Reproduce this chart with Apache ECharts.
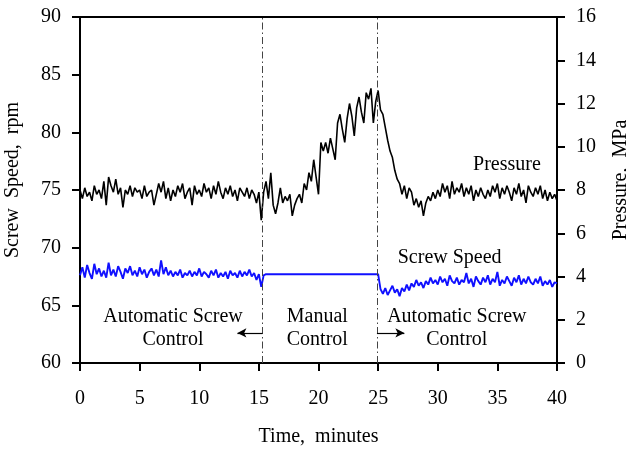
<!DOCTYPE html>
<html>
<head>
<meta charset="utf-8">
<script src="https://cdn.jsdelivr.net/npm/echarts@6/dist/echarts.min.js"></script>
<style>html,body{margin:0;padding:0;background:#fff;}#c{width:626px;height:449px;}</style>
</head>
<body>
<div id="c"></div>
<script>
// sampling step of the recorded traces (minutes)
const timeStep = 0.2;
const xTicks = [0, 5, 10, 15, 20, 25, 30, 35, 40];
const speedTicks = [60, 65, 70, 75, 80, 85, 90];
const pressureTicks = [0, 2, 4, 6, 8, 10, 12, 14, 16];

// Pressure, MPa (right axis), t = 0 .. 40 min every 0.2 min
const pressure = [
  8.0, 7.6, 8.1, 7.7, 7.9, 7.5, 8.2, 7.8, 8.0, 7.6,
  8.4, 7.3, 8.6, 8.2, 7.9, 8.5, 7.8, 8.1, 7.2, 8.0,
  7.8, 8.2, 7.7, 8.1, 7.9, 8.0, 7.6, 8.2, 7.7, 7.9,
  8.0, 7.3, 7.8, 8.3, 7.9, 8.4, 7.6, 8.1, 7.5, 8.0,
  7.7, 8.2, 7.9, 8.3, 7.6, 7.9, 8.1, 7.3, 8.2, 7.8,
  8.0, 7.7, 8.3, 7.9, 8.1, 7.6, 8.2, 7.8, 8.4, 7.9,
  7.6, 8.1, 7.8, 8.2, 7.7, 8.0, 7.5, 8.1, 7.9, 7.7,
  8.1, 7.6, 8.0, 7.8, 7.4, 7.9, 6.6, 7.9, 8.4, 7.6,
  8.8, 7.3, 6.9, 7.4, 8.1, 7.4, 7.7, 7.5, 7.8, 6.8,
  7.3, 7.6, 7.8, 7.4, 8.3, 8.0, 8.8, 8.4, 9.4, 8.6,
  7.8, 10.2, 9.8, 10.2, 9.7, 10.4, 9.9, 9.4, 11.1, 11.5,
  10.8, 10.2, 11.3, 12.0, 11.4, 10.5, 11.8, 12.3, 11.6, 11.1,
  12.5, 12.2, 12.7, 11.1, 12.1, 12.6, 11.7, 11.5, 10.9, 10.3,
  9.8, 9.5, 8.9, 8.5, 8.3, 7.8, 8.2, 7.6, 8.1, 7.9,
  7.3, 7.6, 7.2, 7.5, 6.8, 7.4, 7.7, 7.5, 7.9, 7.6,
  8.0, 7.7, 8.3, 7.9, 8.2, 7.6, 8.4, 7.8, 8.1, 7.9,
  8.3, 7.7, 8.1, 7.8, 8.2, 7.5, 8.0, 7.7, 8.1, 7.8,
  7.6, 8.0, 7.7, 8.2, 7.9, 8.3, 7.6, 8.1, 7.8, 8.2,
  7.9, 7.5, 8.1, 7.8, 8.3, 7.7, 8.0, 7.4, 8.2, 7.9,
  7.7, 8.1, 7.8, 8.2, 7.6, 8.0, 7.5, 7.9, 7.6, 7.8,
  7.5
];

// Screw speed, rpm (left axis), t = 0 .. 40 min every 0.2 min
const screwSpeed = [
  67.6, 68.3, 67.4, 68.5, 67.8, 67.3, 68.6, 67.7, 68.2, 67.5,
  68.0, 67.4, 68.7, 67.6, 68.1, 67.5, 68.4, 67.9, 67.3, 68.2,
  67.8, 68.4, 67.6, 68.0, 67.5, 68.3, 67.7, 68.1, 67.4, 67.9,
  68.2, 67.6, 68.1, 67.5, 68.9, 67.7, 68.3, 67.6, 68.0, 67.5,
  67.9, 67.6, 68.1, 67.4, 67.8, 67.6, 68.0, 67.5, 67.9, 67.6,
  68.2, 67.5, 67.9, 67.7, 67.4, 68.0, 67.6, 68.1, 67.4, 67.8,
  67.5, 67.9, 67.3, 68.0, 67.6, 67.8, 67.4, 68.0, 67.5, 67.9,
  67.6, 68.1, 67.5, 67.8, 67.2, 67.7, 66.6, 67.6, 67.7, 67.7,
  67.7, 67.7, 67.7, 67.7, 67.7, 67.7, 67.7, 67.7, 67.7, 67.7,
  67.7, 67.7, 67.7, 67.7, 67.7, 67.7, 67.7, 67.7, 67.7, 67.7,
  67.7, 67.7, 67.7, 67.7, 67.7, 67.7, 67.7, 67.7, 67.7, 67.7,
  67.7, 67.7, 67.7, 67.7, 67.7, 67.7, 67.7, 67.7, 67.7, 67.7,
  67.7, 67.7, 67.7, 67.7, 67.7, 67.7, 66.4, 66.0, 66.5, 65.9,
  66.3, 66.7, 66.1, 66.4, 65.8, 66.5, 66.2, 66.8, 66.3, 66.9,
  66.6, 67.2, 66.7, 67.0, 66.5, 67.1, 66.8, 67.4, 66.9, 67.2,
  66.8, 67.5, 67.0, 67.3, 66.7, 67.6, 67.1, 66.9, 67.4, 66.8,
  67.2, 67.0, 67.8, 66.9, 67.3, 66.6, 67.5, 67.1, 66.8, 67.4,
  67.0, 67.6, 66.8, 67.3, 67.0, 67.9, 66.7, 67.2, 66.9, 67.5,
  67.1, 66.7, 67.4, 67.0, 67.6, 66.8, 67.3, 66.9, 67.5, 67.0,
  66.8, 67.3, 66.9, 67.5, 66.7, 67.1, 66.8, 67.2, 66.6, 67.0,
  66.9
];

// control-mode switch times (minutes)
const switchTimes = [15.3, 24.9];

// annotations: [time, pressure-axis value, text]
const annotations = [
  [7.8, 1.62, 'Automatic Screw\nControl'],
  [19.9, 1.62, 'Manual\nControl'],
  [31.6, 1.62, 'Automatic Screw\nControl'],
  [35.8, 9.16, 'Pressure'],
  [31.0, 4.86, 'Screw Speed']
];
// arrows: [fromTime, toTime, pressure-axis level]
const arrows = [[15.3, 13.2, 1.39], [24.9, 27.2, 1.39]];

const FONT = "'Liberation Serif', 'Times New Roman', serif";

const pPairs = pressure.map((v, i) => [+(i * timeStep).toFixed(2), v]);
const sPairs = screwSpeed.map((v, i) => [+(i * timeStep).toFixed(2), v]);

const chart = echarts.init(document.getElementById('c'), null, {renderer: 'canvas'});
const axisCommon = {
  axisLine: {show: true, lineStyle: {color: '#000', width: 2}},
  axisTick: {show: true, inside: false, length: 8, lineStyle: {color: '#000', width: 2}},
  splitLine: {show: false},
  axisLabel: {color: '#000', fontFamily: FONT, fontSize: 20},
  nameTextStyle: {color: '#000', fontFamily: FONT, fontSize: 20},
  nameMoveOverlap: false
};

chart.setOption({
  animation: false,
  backgroundColor: '#fff',
  grid: {left: 80, right: 69, top: 17, bottom: 86, show: true, borderColor: '#000', borderWidth: 2,
         containLabel: false, outerBoundsMode: 'none'},
  xAxis: Object.assign({}, axisCommon, {
    type: 'value', min: xTicks[0], max: xTicks[xTicks.length - 1], interval: 5,
    name: 'Time,  minutes', nameLocation: 'middle', nameGap: 64,
    axisLabel: Object.assign({}, axisCommon.axisLabel, {margin: 26})
  }),
  yAxis: [
    Object.assign({}, axisCommon, {
      type: 'value', position: 'left', min: speedTicks[0], max: speedTicks[speedTicks.length - 1], interval: 5,
      name: 'Screw  Speed,  rpm', nameLocation: 'middle', nameGap: 57, nameRotate: 90,
      nameTextStyle: Object.assign({}, axisCommon.nameTextStyle, {padding: [0, 0, 0, 20]}),
      axisLabel: Object.assign({}, axisCommon.axisLabel, {margin: 19})
    }),
    Object.assign({}, axisCommon, {
      type: 'value', position: 'right', min: pressureTicks[0], max: pressureTicks[pressureTicks.length - 1], interval: 2,
      name: 'Pressure,  MPa', nameLocation: 'middle', nameGap: 54, nameRotate: 90,
      nameTextStyle: Object.assign({}, axisCommon.nameTextStyle, {padding: [0, 0, 0, 20]}),
      axisLabel: Object.assign({}, axisCommon.axisLabel, {margin: 19})
    })
  ],
  series: [
    {
      name: 'Pressure', type: 'line', yAxisIndex: 1, data: pPairs, showSymbol: false, symbol: 'none',
      lineStyle: {color: '#000', width: 1.6}, z: 3,
      markLine: {
        silent: true, symbol: ['none', 'none'], label: {show: false},
        lineStyle: {color: '#444', width: 1, type: [7, 3, 1.5, 3]},
        data: switchTimes.map(t => ({xAxis: t}))
      },
      markPoint: {
        silent: true, symbol: 'circle', symbolSize: 1, itemStyle: {color: 'rgba(0,0,0,0)'},
        label: {show: true, position: 'inside', color: '#000', fontFamily: FONT, fontSize: 20, lineHeight: 23, align: 'center', verticalAlign: 'middle',
          formatter: p => p.data.txt},
        data: annotations.map(a => ({coord: [a[0], a[1]], txt: a[2]}))
      }
    },
    {
      name: 'Screw Speed', type: 'line', yAxisIndex: 0, data: sPairs, showSymbol: false, symbol: 'none',
      lineStyle: {color: '#1010ff', width: 1.9}, z: 3
    },
    {
      name: 'arrows', type: 'line', yAxisIndex: 1, data: [], silent: true,
      markLine: {
        silent: true, symbol: ['none', 'arrow'], symbolSize: [7, 9], label: {show: false},
        lineStyle: {color: '#000', width: 1.2, type: 'solid'},
        data: arrows.map(a => [{coord: [a[0], a[2]]}, {coord: [a[1], a[2]]}])
      }
    }
  ]
});
</script>
</body>
</html>
